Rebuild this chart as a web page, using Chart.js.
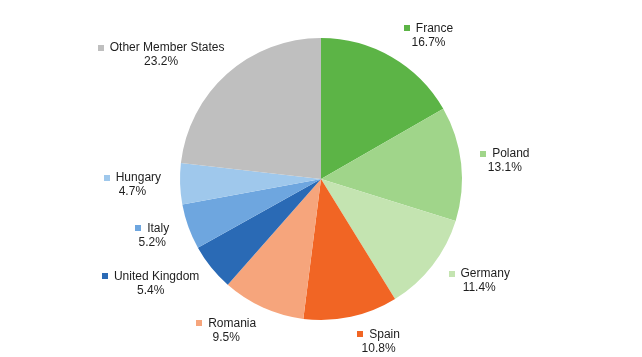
<!DOCTYPE html>
<html>
<head>
<meta charset="utf-8">
<script src="https://cdn.jsdelivr.net/npm/chart.js@4.4.1/dist/chart.umd.min.js"></script>
<style>
html,body{margin:0;padding:0;background:#fff;}
#wrap{width:642px;height:357px;position:relative;}
</style>
</head>
<body>
<div id="wrap"><canvas id="c" width="642" height="357"></canvas></div>
<script>
const categories = ["France", "Poland", "Germany", "Spain", "Romania", "United Kingdom", "Italy", "Hungary", "Other Member States"];
const shares = [16.7, 13.1, 11.4, 10.8, 9.5, 5.4, 5.2, 4.7, 23.2];
const percentLabels = ["16.7%", "13.1%", "11.4%", "10.8%", "9.5%", "5.4%", "5.2%", "4.7%", "23.2%"];
const sliceColors = ["#5cb446", "#a0d58a", "#c4e4b1", "#f16524", "#f6a57c", "#2a6ab5", "#6ea6df", "#9fc8ec", "#bfbfbf"];

const labelPlugin = {
  id: 'outLabels',
  afterDatasetsDraw(chart) {
    const ctx = chart.ctx;
    const meta = chart.getDatasetMeta(0);
    ctx.save();
    ctx.font = '12px "Liberation Sans", Arial, sans-serif';
    ctx.textBaseline = 'middle';
    meta.data.forEach((arc, i) => {
      const p = arc.getProps(['x', 'y', 'startAngle', 'endAngle', 'outerRadius'], true);
      const mid = (p.startAngle + p.endAngle) / 2;
      const ux = Math.cos(mid), uy = Math.sin(mid);
      const name = categories[i];
      const nameW = ctx.measureText(name).width;
      const mk = 6, gap = 6;
      const line1W = mk + gap + nameW;
      const boxH = 12;
      const ar = p.outerRadius * 1.135;
      const spread = Math.sign(ux) * 20 * uy * uy;
      const cx = p.x + ux * ar + ux * line1W / 2 + spread;
      const cy = p.y + uy * ar + uy * boxH / 2;
      const x0 = cx - line1W / 2;
      const y1 = cy - 7, y2 = cy + 7;
      ctx.fillStyle = sliceColors[i];
      ctx.fillRect(Math.round(x0), Math.round(y1 - mk / 2), mk, mk);
      ctx.fillStyle = '#1e1e1e';
      ctx.textAlign = 'left';
      ctx.fillText(name, x0 + mk + gap, y1);
      ctx.textAlign = 'center';
      ctx.fillText(percentLabels[i], cx, y2);
    });
    ctx.restore();
  }
};

new Chart(document.getElementById('c'), {
  type: 'pie',
  data: {
    labels: categories,
    datasets: [{
      data: shares,
      backgroundColor: sliceColors,
      borderWidth: 0
    }]
  },
  options: {
    responsive: false,
    animation: false,
    layout: { padding: { top: 38, bottom: 37, left: 100, right: 100 } },
    plugins: {
      legend: { display: false },
      tooltip: { enabled: false },
      title: { display: false }
    }
  },
  plugins: [labelPlugin]
});
</script>
</body>
</html>
